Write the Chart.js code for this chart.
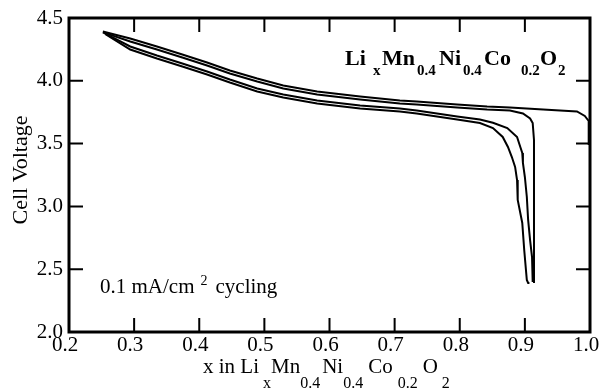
<!DOCTYPE html>
<html>
<head>
<meta charset="utf-8">
<script src="https://cdn.jsdelivr.net/npm/chart.js@4.4.1/dist/chart.umd.min.js"></script>
<style>
  html, body { margin: 0; padding: 0; background: #fff; }
  #wrap { width: 601px; height: 388px; position: relative; }
</style>
</head>
<body>
<div id="wrap"><canvas id="cycleChart"></canvas></div>
<script>
// first charge, starting from the as-made electrode at x = 1.0
const charge1X = [0.998, 0.998, 0.992, 0.980, 0.928, 0.877, 0.842, 0.796, 0.734, 0.708, 0.647, 0.581, 0.529, 0.489, 0.447, 0.412, 0.374, 0.335, 0.294, 0.252];
const charge1V = [3.489, 3.680, 3.720, 3.756, 3.771, 3.787, 3.795, 3.811, 3.835, 3.843, 3.875, 3.915, 3.963, 4.018, 4.082, 4.146, 4.209, 4.273, 4.337, 4.392];

// first discharge down to the 2.4 V cutoff
const discharge1X = [0.252, 0.294, 0.335, 0.374, 0.412, 0.447, 0.489, 0.529, 0.581, 0.647, 0.708, 0.734, 0.765, 0.796, 0.831, 0.851, 0.873, 0.888, 0.893, 0.896, 0.897, 0.900, 0.903, 0.905, 0.908, 0.911, 0.912];
const discharge1V = [4.385, 4.273, 4.201, 4.138, 4.074, 4.010, 3.939, 3.891, 3.843, 3.803, 3.780, 3.764, 3.740, 3.716, 3.692, 3.666, 3.624, 3.553, 3.473, 3.425, 3.346, 3.234, 3.075, 2.892, 2.732, 2.597, 2.398];

// second charge
const charge2X = [0.914, 0.914, 0.912, 0.908, 0.897, 0.877, 0.842, 0.796, 0.734, 0.708, 0.647, 0.581, 0.529, 0.489, 0.447, 0.412, 0.374, 0.335, 0.294, 0.256];
const charge2V = [2.390, 3.529, 3.664, 3.700, 3.740, 3.763, 3.771, 3.787, 3.811, 3.819, 3.851, 3.891, 3.939, 3.994, 4.058, 4.122, 4.185, 4.249, 4.313, 4.380];

// second discharge
const discharge2X = [0.256, 0.294, 0.335, 0.374, 0.412, 0.447, 0.489, 0.529, 0.581, 0.647, 0.708, 0.734, 0.765, 0.796, 0.831, 0.851, 0.866, 0.874, 0.880, 0.885, 0.888, 0.889, 0.896, 0.899, 0.903, 0.905, 0.907];
const discharge2V = [4.372, 4.249, 4.177, 4.114, 4.050, 3.986, 3.915, 3.867, 3.819, 3.779, 3.756, 3.740, 3.716, 3.692, 3.664, 3.624, 3.553, 3.473, 3.393, 3.314, 3.210, 3.051, 2.868, 2.653, 2.414, 2.390, 2.390];

const xMin = 0.2, xMax = 1.0, xStep = 0.1;
const yMin = 2.0, yMax = 4.5, yStep = 0.5;

const serif = "'Liberation Serif', 'Times New Roman', serif";

function pairs(xs, ys) {
  return xs.map((x, i) => ({ x: x, y: ys[i] }));
}

function curve(label, xs, ys) {
  return {
    label: label,
    data: pairs(xs, ys),
    showLine: true,
    borderColor: "#000",
    borderWidth: 2,
    pointRadius: 0,
    tension: 0,
    fill: false,
  };
}

// draws text pieces at fixed x positions, each with its own font and baseline shift
function drawRuns(ctx, baseline, runs) {
  runs.forEach((r) => {
    ctx.font = r.font;
    ctx.fillText(r.t, r.x, baseline + (r.dy || 0));
  });
}

// same, but each piece follows the previous one
function flowRuns(ctx, x, baseline, runs) {
  runs.forEach((r) => {
    x += r.gap || 0;
    ctx.font = r.font;
    ctx.fillText(r.t, x, baseline + (r.dy || 0));
    x += ctx.measureText(r.t).width;
  });
}

// frame, inward ticks on all four sides, and the text labels
const framePlugin = {
  id: "frame",
  afterDraw(chart) {
    const ctx = chart.ctx;
    const a = chart.chartArea;
    const xs = chart.scales.x;
    const ys = chart.scales.y;
    ctx.save();
    ctx.strokeStyle = "#000";
    ctx.lineWidth = 3;
    ctx.strokeRect(a.left, a.top, a.right - a.left, a.bottom - a.top);

    ctx.lineWidth = 2;
    const tl = 14;
    ctx.beginPath();
    xs.ticks.forEach((t) => {
      const px = xs.getPixelForValue(t.value);
      ctx.moveTo(px, a.bottom);
      ctx.lineTo(px, a.bottom - tl);
      ctx.moveTo(px, a.top);
      ctx.lineTo(px, a.top + tl);
    });
    ys.ticks.forEach((t) => {
      const py = ys.getPixelForValue(t.value);
      ctx.moveTo(a.left, py);
      ctx.lineTo(a.left + tl, py);
      ctx.moveTo(a.right, py);
      ctx.lineTo(a.right - tl, py);
    });
    ctx.stroke();

    ctx.fillStyle = "#000";
    ctx.textAlign = "left";
    ctx.textBaseline = "alphabetic";

    // compound name inside the plot
    const b = "bold 22px " + serif;
    const bs = "bold 15px " + serif;
    drawRuns(ctx, 65, [
      { t: "Li", x: 345, font: b },
      { t: "x", x: 373, font: bs, dy: 10 },
      { t: "Mn", x: 382, font: b },
      { t: "0.4", x: 417, font: bs, dy: 10 },
      { t: "Ni", x: 439, font: b },
      { t: "0.4", x: 463, font: bs, dy: 10 },
      { t: "Co", x: 484, font: b },
      { t: "0.2", x: 521, font: bs, dy: 10 },
      { t: "O", x: 540, font: b },
      { t: "2", x: 558, font: bs, dy: 10 },
    ]);

    // current density note
    const r = "21px " + serif;
    flowRuns(ctx, 100, 293, [
      { t: "0.1 mA/cm", font: r },
      { t: "2", font: "14px " + serif, dy: -8, gap: 6 },
      { t: "cycling", font: r, gap: 8 },
    ]);

    // x axis title
    const s = "16px " + serif;
    flowRuns(ctx, 203, 373, [
      { t: "x in Li", font: r },
      { t: "x", font: s, dy: 15, gap: 4 },
      { t: "Mn", font: r },
      { t: "0.4", font: s, dy: 15 },
      { t: "Ni", font: r, gap: 2 },
      { t: "0.4", font: s, dy: 15 },
      { t: "Co", font: r, gap: 5 },
      { t: "0.2", font: s, dy: 15, gap: 5 },
      { t: "O", font: r, gap: 5 },
      { t: "2", font: s, dy: 15, gap: 4 },
    ]);

    // y axis title
    ctx.translate(27, 170);
    ctx.rotate(-Math.PI / 2);
    ctx.textAlign = "center";
    ctx.font = "22px " + serif;
    ctx.fillText("Cell Voltage", 0, 0);
    ctx.restore();
  },
};

new Chart(document.getElementById("cycleChart"), {
  type: "scatter",
  data: {
    datasets: [
      curve("charge 1", charge1X, charge1V),
      curve("discharge 1", discharge1X, discharge1V),
      curve("charge 2", charge2X, charge2V),
      curve("discharge 2", discharge2X, discharge2V),
    ],
  },
  options: {
    responsive: true,
    maintainAspectRatio: false,
    animation: false,
    events: [],
    layout: { padding: { top: 18, right: 11, left: 0, bottom: 0 } },
    plugins: {
      legend: { display: false },
      tooltip: { enabled: false },
    },
    scales: {
      x: {
        type: "linear",
        min: xMin,
        max: xMax,
        grid: { display: false, drawTicks: false },
        border: { display: false },
        ticks: {
          stepSize: xStep,
          padding: 1,
          labelOffset: -4,
          color: "#000",
          maxRotation: 0,
          autoSkip: false,
          font: { family: serif, size: 21 },
          callback: (v) => v.toFixed(1),
        },
        afterFit(scale) {
          scale.height = 56;
          scale.paddingLeft = 0;
          scale.paddingRight = 0;
        },
      },
      y: {
        type: "linear",
        min: yMin,
        max: yMax,
        grid: { display: false, drawTicks: false },
        border: { display: false },
        ticks: {
          stepSize: yStep,
          padding: 6,
          color: "#000",
          font: { family: serif, size: 21 },
          callback: (v) => v.toFixed(1),
        },
        afterFit(scale) {
          scale.width = 69;
          scale.paddingTop = 0;
          scale.paddingBottom = 0;
        },
      },
    },
  },
  plugins: [framePlugin],
});
</script>
</body>
</html>
